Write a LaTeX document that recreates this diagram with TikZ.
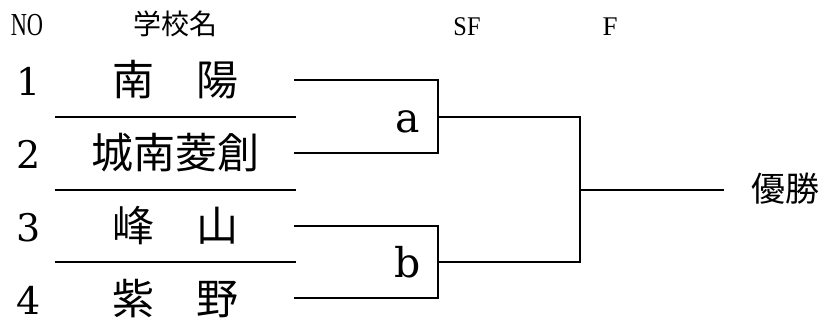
\documentclass[tikz,border=0pt]{standalone}
\usepackage{fontspec}
\newfontfamily\cjk{Noto Sans CJK JP}
\newfontfamily\lat{DejaVu Serif}
\newfontfamily\hlat{Liberation Serif}
\begin{document}
\begin{tikzpicture}[x=1pt,y=-1pt,
  ln/.style={line width=1.5pt, line cap=rect},
  hdr/.style={inner sep=0pt, anchor=base},
  num/.style={inner sep=0pt, anchor=base, font=\lat\fontsize{38}{38}\selectfont},
  school/.style={inner sep=0pt, font=\cjk\fontsize{42}{42}\selectfont},
  lbl/.style={inner sep=0pt, anchor=base, font=\lat\fontsize{41}{41}\selectfont}]
\useasboundingbox (0,0) rectangle (824,333);
\fill[white] (0,0) rectangle (824,333);
% headers
\node[hdr, font=\hlat\fontsize{32}{32}\selectfont, xscale=0.7] (hno) at (27,35) {NO};
\node[hdr, font=\cjk\fontsize{28}{28}\selectfont] (hname) at (175,34) {学校名};
\node[hdr, font=\hlat\fontsize{27}{27}\selectfont, xscale=0.9] (hsf) at (467,35) {SF};
\node[hdr, font=\hlat\fontsize{27}{27}\selectfont] (hf) at (610,35) {F};
% numbers
\node[num] (n1) at (29,95) {1};
\node[num] (n2) at (29,168) {2};
\node[num] (n3) at (29,241) {3};
\node[num] (n4) at (29,314) {4};
% schools
\node[school] (s1) at (175,80) {南　陽};
\node[school] (s2) at (175,153) {城南菱創};
\node[school] (s3) at (175,226) {峰　山};
\node[school] (s4) at (175,299) {紫　野};
% coordinates
\coordinate (d1l) at (56,117); \coordinate (d1r) at (295,117);
\coordinate (d2l) at (56,190); \coordinate (d2r) at (295,190);
\coordinate (d3l) at (56,262); \coordinate (d3r) at (295,262);
\coordinate (e1) at (295,80); \coordinate (e2) at (295,153);
\coordinate (e3) at (295,226); \coordinate (e4) at (295,298);
\coordinate (ja) at (438,117); \coordinate (jb) at (438,262);
\coordinate (fa) at (580,117); \coordinate (fb) at (580,262);
\coordinate (fm) at (580,190); \coordinate (fend) at (723,190);
% separators
\draw[ln] (d1l) -- (d1r);
\draw[ln] (d2l) -- (d2r);
\draw[ln] (d3l) -- (d3r);
% semifinal brackets
\draw[ln] (e1) -- (e1 -| ja) -- (e2 -| ja) -- (e2);
\draw[ln] (e3) -- (e3 -| jb) -- (e4 -| jb) -- (e4);
\draw[ln] (ja) -- (fa) -- (fb) -- (jb);
\draw[ln] (fm) -- (fend);
% labels
\node[lbl] (la) at (408,132) {a};
\node[lbl] (lb) at (408,277) {b};
\node[inner sep=0pt, anchor=west, font=\cjk\fontsize{34}{34}\selectfont] (win) at (751,189) {優勝};
\end{tikzpicture}
\end{document}
